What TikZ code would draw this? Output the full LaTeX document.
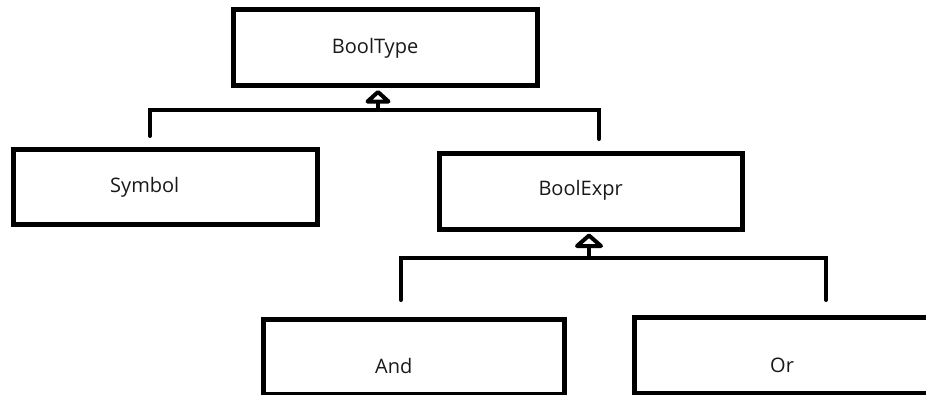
\documentclass[tikz,border=0pt]{standalone}
\usepackage{fontspec}
\setmainfont{Open Sans}
\begin{document}
\begin{tikzpicture}[x=1pt,y=-1pt,
  box/.style={draw=black, line width=5pt, rectangle, inner sep=0pt, fill=white},
  lbl/.style={anchor=base west, inner sep=0pt, font=\fontsize{20}{24}\selectfont, text=black!90},
  conn/.style={draw=black, line width=4pt, line cap=round, line join=miter},
  tri/.style={draw=black, line width=4pt, line join=round, fill=white}
]
\useasboundingbox (0,0) rectangle (926,394);
\clip (0,0) rectangle (926,394);
\fill[white] (0,0) rectangle (926,394);

% boxes
\node[box, minimum width=304pt, minimum height=75.5pt] (BoolType) at (385.5,47.25) {};
\node[box, minimum width=304pt, minimum height=75pt] (Symbol) at (165.5,187) {};
\node[box, minimum width=303pt, minimum height=76pt] (BoolExpr) at (591,191) {};
\node[box, minimum width=301pt, minimum height=74.5pt] (And) at (414,356.75) {};
\node[box, minimum width=300pt, minimum height=76pt] (Or) at (784.5,355) {};

% labels
\node[lbl] (tBoolType) at (331.7,53.5) {BoolType};
\node[lbl] (tSymbol) at (110,192.7) {Symbol};
\node[lbl] (tBoolExpr) at (538.3,195) {BoolExpr};
\node[lbl] (tAnd) at (375,373) {And};
\node[lbl] (tOr) at (770,372) {Or};

% first inheritance tree
\coordinate (j1) at (378,110);
\coordinate (s1) at (150,136);
\coordinate (e1) at (599,139);
\coordinate (a1) at ([yshift=-2.5pt]BoolType.south -| j1);
\draw[conn] (s1) |- (j1) -| (e1);
\draw[conn, line cap=butt] (j1) -- ([yshift=-11pt]a1);
\draw[tri] (a1) ++(0,2) -- ++(-10.5,9.5) -- ++(21,0) -- cycle;

% second inheritance tree
\coordinate (j2) at (589,258);
\coordinate (s2) at (401,300);
\coordinate (e2) at (826,300);
\coordinate (a2) at ([yshift=-2pt]BoolExpr.south -| j2);
\draw[conn] (s2) |- (j2) -| (e2);
\draw[conn, line cap=butt] (j2) -- ([yshift=-12pt]a2);
\draw[tri] (a2) ++(0,2) -- ++(-12,10.5) -- ++(24,0) -- cycle;
\end{tikzpicture}
\end{document}
